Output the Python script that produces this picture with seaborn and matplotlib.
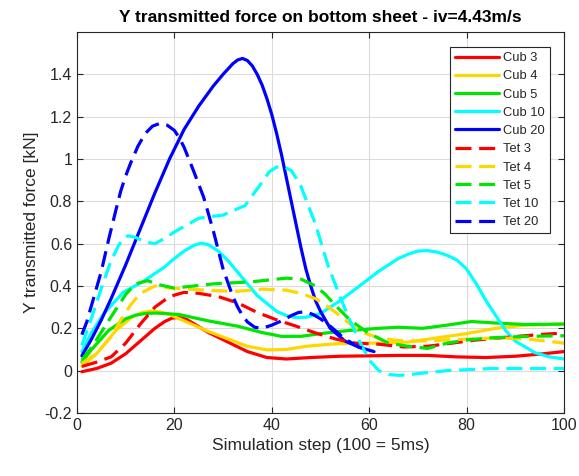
import matplotlib
matplotlib.use("Agg")
import matplotlib.pyplot as plt
import matplotlib.ticker as mticker
import pandas as pd
import seaborn as sns

# ---- series data: simulation step vs. transmitted Y force [kN] ----
x_cub3 = [1, 4, 7, 10, 13, 16, 18, 19.5, 21, 22.5, 24, 27, 31, 35, 39, 43, 48, 54, 60, 66, 72, 78,
          84, 90, 95, 100]
y_cub3 = [-0.005, 0.01, 0.035, 0.08, 0.14, 0.2, 0.232, 0.248, 0.252, 0.242, 0.222, 0.18, 0.135,
          0.09, 0.062, 0.055, 0.062, 0.068, 0.07, 0.072, 0.072, 0.065, 0.062, 0.068, 0.078, 0.09]

x_cub4 = [1, 4, 8, 11, 13, 15, 17, 19, 23, 27, 31, 35, 39, 43, 47, 52, 57, 63, 68, 74, 80, 86, 92,
          100]
y_cub4 = [0.02, 0.08, 0.19, 0.248, 0.272, 0.282, 0.278, 0.265, 0.225, 0.185, 0.15, 0.115, 0.098,
          0.1, 0.115, 0.125, 0.13, 0.13, 0.135, 0.155, 0.175, 0.2, 0.215, 0.22]

x_cub5 = [1, 3, 6.5, 10, 12, 14, 16, 18, 21, 27, 33, 38, 42, 46, 50, 56, 62, 66, 71, 76, 81, 86, 92,
          100]
y_cub5 = [0.04, 0.10, 0.19, 0.245, 0.262, 0.27, 0.272, 0.27, 0.265, 0.235, 0.21, 0.18, 0.162, 0.162,
          0.175, 0.19, 0.2, 0.205, 0.2, 0.215, 0.232, 0.225, 0.218, 0.22]

x_cub10 = [1, 3, 5.5, 9.5, 13.5, 18, 20, 22, 24, 25.5, 27, 29, 31, 33, 37, 41, 43, 45, 47, 50, 54,
           58, 62, 66, 68, 70, 72, 74, 76, 78, 80, 82, 84, 86, 88, 90, 94, 97, 100]
y_cub10 = [0.09, 0.18, 0.27, 0.37, 0.42, 0.49, 0.53, 0.565, 0.592, 0.602, 0.595, 0.565, 0.52, 0.465,
           0.355, 0.28, 0.26, 0.25, 0.252, 0.27, 0.33, 0.40, 0.47, 0.53, 0.55, 0.565, 0.567, 0.56,
           0.545, 0.523, 0.48, 0.41, 0.33, 0.26, 0.19, 0.14, 0.085, 0.065, 0.055]

x_cub20 = [1, 3, 5, 7, 10, 13, 16, 19, 22, 25, 28, 30, 32, 33, 34, 35, 36, 37, 38, 39, 40, 41, 42,
           43, 44, 45, 46, 47, 48, 49, 50, 52, 55, 58, 61]
y_cub20 = [0.07, 0.15, 0.24, 0.34, 0.50, 0.67, 0.84, 1.00, 1.14, 1.25, 1.345, 1.40, 1.45, 1.468,
           1.475, 1.465, 1.44, 1.40, 1.35, 1.285, 1.21, 1.12, 1.02, 0.91, 0.80, 0.69, 0.58, 0.48,
           0.40, 0.33, 0.28, 0.20, 0.14, 0.11, 0.09]

x_tet3 = [1, 4, 7, 10, 13, 16, 19, 22, 25, 29, 33, 37, 41, 45, 49, 53, 57, 62, 67, 72, 77, 82, 87,
          92, 96, 100]
y_tet3 = [0.02, 0.04, 0.065, 0.13, 0.22, 0.3, 0.35, 0.37, 0.365, 0.35, 0.32, 0.275, 0.24, 0.21,
          0.178, 0.15, 0.13, 0.125, 0.112, 0.115, 0.13, 0.145, 0.155, 0.165, 0.172, 0.178]

x_tet4 = [1, 4, 7, 9, 11, 13, 16, 19, 23, 28, 33, 38, 43, 46, 49, 52, 55, 58, 62, 66, 71, 76, 81,
          87, 93, 97, 100]
y_tet4 = [0.035, 0.08, 0.16, 0.24, 0.31, 0.365, 0.4, 0.39, 0.385, 0.378, 0.375, 0.385, 0.38, 0.365,
          0.34, 0.295, 0.24, 0.185, 0.155, 0.142, 0.14, 0.145, 0.15, 0.155, 0.148, 0.138, 0.13]

x_tet5 = [1, 3, 5.5, 8, 10, 12, 14.5, 17, 20, 24, 28, 32, 36, 40, 43, 46, 49, 51, 53, 56, 60, 64,
          68, 72, 76, 80, 85, 90, 95, 100]
y_tet5 = [0.05, 0.11, 0.2, 0.29, 0.36, 0.41, 0.425, 0.405, 0.39, 0.4, 0.41, 0.415, 0.42, 0.43,
          0.437, 0.432, 0.4, 0.36, 0.31, 0.24, 0.175, 0.13, 0.115, 0.105, 0.13, 0.145, 0.155, 0.16,
          0.163, 0.165]

x_tet10 = [1, 3, 5, 7, 8.5, 9.5, 10.5, 12, 14, 16, 18, 20, 25, 30, 34.5, 38, 39.5, 41, 42.5, 44,
           45, 46, 47, 48, 49, 51.5, 54, 56, 58, 60, 62, 64, 66, 68, 70, 76, 85, 92, 100]
y_tet10 = [0.12, 0.25, 0.39, 0.52, 0.59, 0.625, 0.637, 0.63, 0.608, 0.60, 0.625, 0.655, 0.72,
           0.735, 0.78, 0.89, 0.94, 0.962, 0.963, 0.945, 0.91, 0.87, 0.81, 0.75, 0.69, 0.50, 0.35,
           0.24, 0.14, 0.05, 0.0, -0.018, -0.022, -0.02, -0.014, 0.0, 0.01, 0.01, 0.01]

x_tet20 = [1, 2, 3, 4, 5, 6.5, 8, 9, 10, 11, 12.5, 14, 15.5, 17, 18.5, 20, 21, 22, 24, 26, 28, 30,
           32, 33, 34, 35, 36.5, 38, 40, 42, 44, 45.5, 47, 48.5, 50, 52, 55, 58, 60]
y_tet20 = [0.17, 0.23, 0.31, 0.39, 0.47, 0.62, 0.76, 0.85, 0.92, 0.98, 1.06, 1.12, 1.155, 1.168,
           1.16, 1.135, 1.10, 1.055, 0.94, 0.82, 0.66, 0.48, 0.35, 0.30, 0.26, 0.23, 0.205, 0.20,
           0.215, 0.235, 0.26, 0.275, 0.278, 0.265, 0.245, 0.21, 0.15, 0.11, 0.10]

series_names = ["Cub 3", "Cub 4", "Cub 5", "Cub 10", "Cub 20",
                "Tet 3", "Tet 4", "Tet 5", "Tet 10", "Tet 20"]
series_x = [x_cub3, x_cub4, x_cub5, x_cub10, x_cub20, x_tet3, x_tet4, x_tet5, x_tet10, x_tet20]
series_y = [y_cub3, y_cub4, y_cub5, y_cub10, y_cub20, y_tet3, y_tet4, y_tet5, y_tet10, y_tet20]

x_ticks = [0, 20, 40, 60, 80, 100]
y_ticks = [-0.2, 0, 0.2, 0.4, 0.6, 0.8, 1, 1.2, 1.4]

# ---- long-form table ----
frames = []
for name, xs, ys in zip(series_names, series_x, series_y):
    frames.append(pd.DataFrame({"step": xs, "force": ys, "series": name}))
df = pd.concat(frames, ignore_index=True)

colors = {"3": "#ff0000", "4": "#ffd700", "5": "#00e600", "10": "#00ffff", "20": "#0000ff"}
palette = {n: colors[n.split()[1]] for n in series_names}
dash_pattern = (5.0, 2.4)
dashes = {n: ("" if n.startswith("Cub") else dash_pattern) for n in series_names}

# ---- style ----
sns.set_theme(style="ticks")
plt.rcParams["font.family"] = ["Liberation Sans", "DejaVu Sans"]
plt.rcParams["lines.solid_capstyle"] = "round"
plt.rcParams["lines.solid_joinstyle"] = "round"
text_col = "#262626"

fig = plt.figure(figsize=(5.79, 4.76), dpi=100)
ax = fig.add_axes([0.133, 0.1324, 0.841, 0.8004])

sns.lineplot(data=df, x="step", y="force", hue="series", style="series",
             hue_order=series_names, style_order=series_names,
             palette=palette, dashes=dashes, linewidth=2.3, sort=False,
             estimator=None, ax=ax)

ax.set_xlim(0, 100)
ax.set_ylim(-0.2, 1.6)
ax.set_xticks(x_ticks)
ax.set_yticks(y_ticks)
ax.yaxis.set_major_formatter(mticker.FuncFormatter(lambda v, p: f"{v:g}"))
ax.grid(True, color="#dcdcdc", linewidth=0.8)
ax.set_axisbelow(True)

for sp in ax.spines.values():
    sp.set_visible(True)
    sp.set_color(text_col)
    sp.set_linewidth(0.8)
ax.tick_params(direction="in", top=True, right=True, length=4, width=0.8,
               colors=text_col, labelsize=11.5, labelcolor=text_col)

ax.set_xlabel("Simulation step (100 = 5ms)", fontsize=12.5, color=text_col)
ax.set_ylabel("Y transmitted force [kN]", fontsize=12.5, color=text_col)
ax.set_title("Y transmitted force on bottom sheet - iv=4.43m/s", fontsize=12.5,
             fontweight="bold", color="black", pad=7)

leg = ax.legend(loc="upper right", bbox_to_anchor=(0.971, 0.961), borderaxespad=0,
                fontsize=9.3, handlelength=3.4, handletextpad=0.3, labelspacing=0.48,
                frameon=True, fancybox=False, edgecolor=text_col, framealpha=1,
                borderpad=0.4)
leg.get_frame().set_linewidth(0.8)
for line in leg.get_lines():
    line.set_linewidth(2.3)

fig.savefig("out.png", dpi=100)
